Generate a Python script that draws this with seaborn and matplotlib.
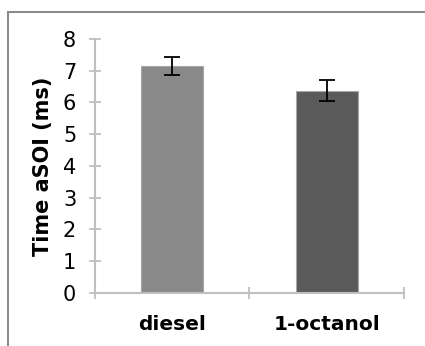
import pandas as pd
import seaborn as sns
import matplotlib.pyplot as plt
from matplotlib.patches import Rectangle

# Data
fuels = ["diesel", "1-octanol"]
time_asoi = [7.15, 6.37]
time_err = [0.28, 0.33]
bar_colors = ["#898989", "#5a5a5a"]

df = pd.DataFrame({"fuel": fuels, "time": time_asoi})

sns.set_style("white")
plt.rcParams['font.family'] = ['DejaVu Sans']
plt.rcParams['text.color'] = 'black'
plt.rcParams['xtick.labelcolor'] = 'black'
plt.rcParams['ytick.labelcolor'] = 'black'
plt.rcParams['axes.labelcolor'] = 'black'

fig = plt.figure(figsize=(4.25, 3.46), dpi=100)
ax = fig.add_axes([0.2235, 0.1532, 0.727, 0.7341])

sns.barplot(data=df, x="fuel", y="time", hue="fuel", palette=bar_colors,
            width=0.4, errorbar=None, legend=False, ax=ax,
            edgecolor="#a6a6a6", linewidth=0.8)
ax.errorbar(range(len(fuels)), time_asoi, yerr=time_err, fmt="none",
            ecolor="black", elinewidth=1.3, capsize=6, capthick=1.3)

ax.set_xlim(-0.5, 1.5)
ax.set_ylim(0, 8)
ax.set_yticks(range(0, 9))
ax.set_xticks([-0.5, 0.5, 1.5], minor=True)

axis_gray = "#bfbfbf"
for side in ["top", "right"]:
    ax.spines[side].set_visible(False)
for side in ["left", "bottom"]:
    ax.spines[side].set_color(axis_gray)
    ax.spines[side].set_linewidth(1.5)

ax.tick_params(axis="y", direction="inout", length=9, width=1.3,
               color=axis_gray, labelsize=15, pad=9, left=True)
ax.tick_params(axis="x", which="major", length=0, labelsize=14.5, pad=16)
ax.tick_params(axis="x", which="minor", direction="inout", length=9,
               width=1.3, color=axis_gray, bottom=True)
for lbl in ax.get_xticklabels():
    lbl.set_fontweight("bold")

ax.set_xlabel("")
ax.set_ylabel("Time aSOI (ms)", fontsize=15, fontweight="bold", labelpad=7)

# outer chart border (cut off at right and bottom)
fig.patches.append(Rectangle((8 / 425, -0.05), 1.1, 1 - 12 / 346 + 0.05,
                             transform=fig.transFigure, fill=False,
                             edgecolor="#8c8c8c", linewidth=1.5))

fig.savefig("out.png", dpi=100)
